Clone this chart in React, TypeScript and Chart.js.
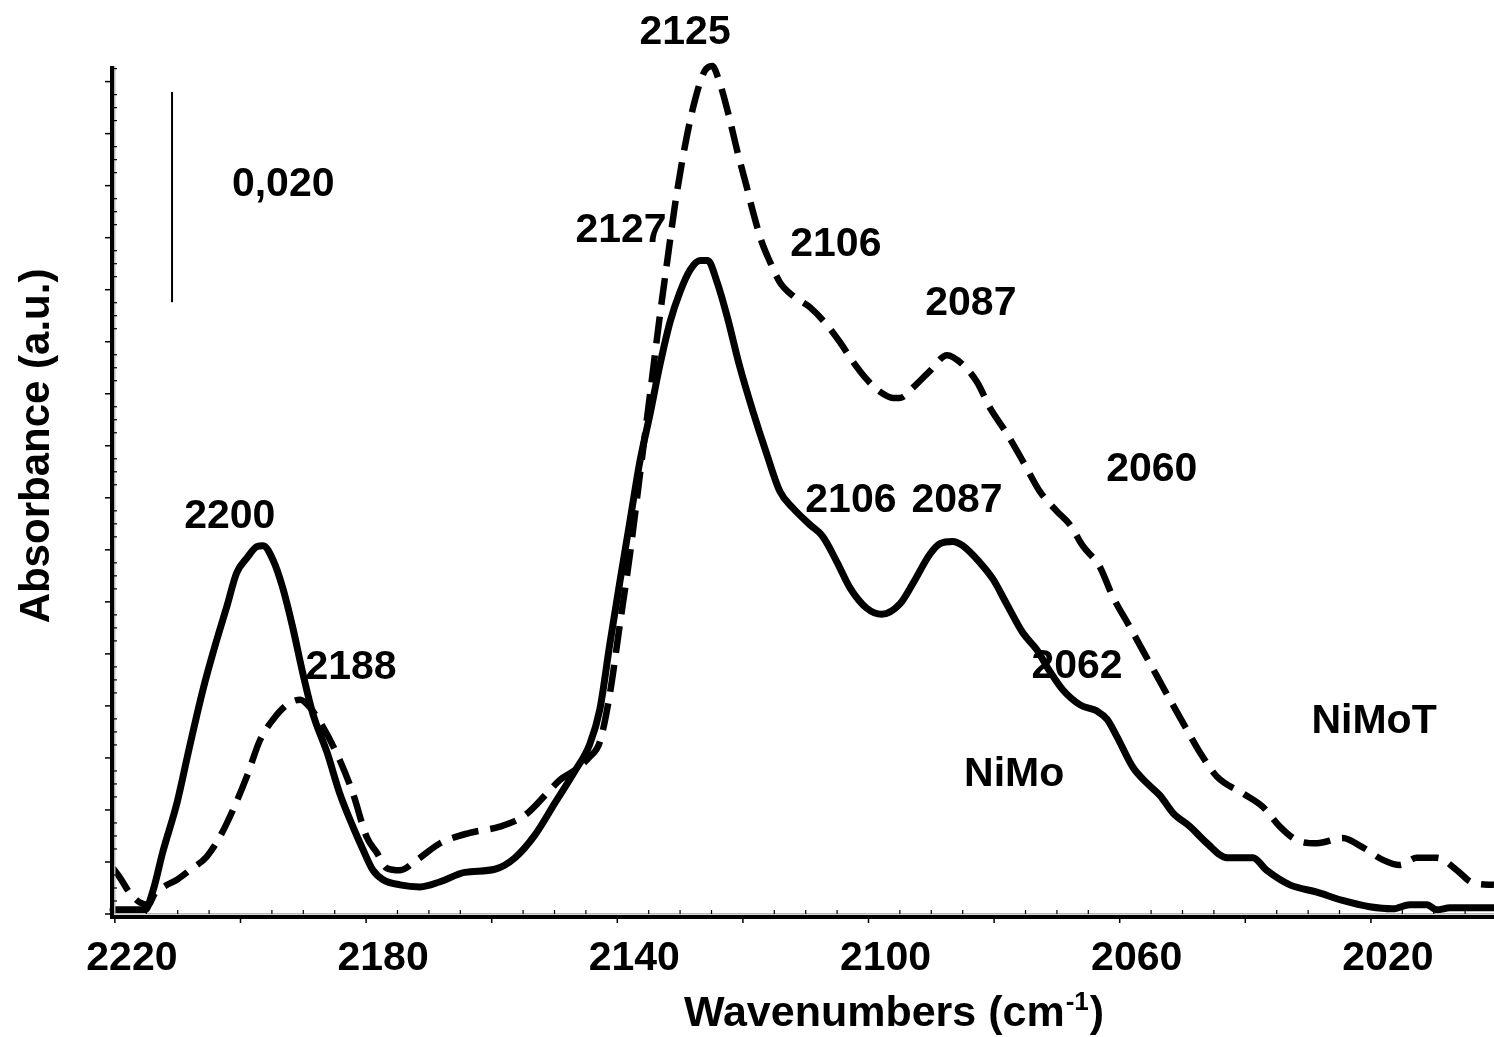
import React, { useEffect, useRef } from 'react';
import { Chart, registerables } from 'chart.js';

Chart.register(...registerables);

const FONT = '"Liberation Sans", Arial, Helvetica, sans-serif';

// NiMo (solid line)
const nimoWavenumbers = [2220.3, 2215.2, 2213.9, 2212.4, 2210.1, 2208.1, 2206.0, 2203.8, 2202.2, 2200.6, 2199.0, 2197.4, 2196.4, 2194.8, 2193.3, 2191.7, 2190.1, 2188.5, 2186.2, 2184.2, 2182.1, 2180.5, 2178.9, 2177.3, 2174.6, 2171.4, 2168.2, 2164.3, 2159.5, 2156.3, 2153.1, 2149.9, 2146.8, 2144.4, 2142.8, 2141.2, 2139.6, 2138.0, 2136.4, 2134.8, 2133.2, 2131.6, 2130.0, 2128.4, 2126.8, 2125.6, 2124.1, 2122.5, 2120.5, 2118.4, 2116.2, 2114.1, 2112.0, 2109.3, 2107.3, 2105.0, 2103.0, 2100.3, 2097.9, 2095.0, 2092.9, 2090.2, 2088.6, 2086.6, 2085.0, 2082.3, 2080.2, 2078.0, 2075.4, 2073.2, 2071.1, 2069.0, 2066.3, 2063.6, 2062.0, 2060.4, 2057.9, 2055.7, 2053.6, 2051.5, 2048.8, 2046.1, 2042.9, 2038.8, 2036.6, 2032.9, 2028.6, 2024.5, 2020.2, 2016.5, 2013.8, 2011.1, 2009.5, 2007.4, 2000.4];
const nimoAbsorbance = [0.0004, 0.0004, 0.0023, 0.0059, 0.0107, 0.0161, 0.0215, 0.0263, 0.0295, 0.0328, 0.0342, 0.0353, 0.0354, 0.0340, 0.0314, 0.0276, 0.0232, 0.0193, 0.0155, 0.0116, 0.0084, 0.0062, 0.0042, 0.0033, 0.0028, 0.0026, 0.0031, 0.0040, 0.0043, 0.0054, 0.0076, 0.0107, 0.0137, 0.0163, 0.0196, 0.0259, 0.0319, 0.0377, 0.0435, 0.0480, 0.0528, 0.0569, 0.0598, 0.0619, 0.0628, 0.0628, 0.0607, 0.0574, 0.0526, 0.0483, 0.0442, 0.0406, 0.0390, 0.0374, 0.0363, 0.0338, 0.0314, 0.0294, 0.0288, 0.0298, 0.0318, 0.0346, 0.0356, 0.0358, 0.0354, 0.0338, 0.0322, 0.0298, 0.0270, 0.0254, 0.0233, 0.0215, 0.0201, 0.0195, 0.0187, 0.0170, 0.0141, 0.0126, 0.0114, 0.0097, 0.0084, 0.0068, 0.0054, 0.0054, 0.0042, 0.0028, 0.0021, 0.0013, 0.0007, 0.0005, 0.0009, 0.0009, 0.0004, 0.0006, 0.0006];

// NiMoT (dashed line)
const nimotWavenumbers = [2220.3, 2219.2, 2217.6, 2216.0, 2214.7, 2213.6, 2212.0, 2210.1, 2208.1, 2205.4, 2203.3, 2201.2, 2199.0, 2196.9, 2194.8, 2192.6, 2190.5, 2189.0, 2186.9, 2184.2, 2182.1, 2179.9, 2178.3, 2176.7, 2174.6, 2171.9, 2168.2, 2163.5, 2158.7, 2154.7, 2151.5, 2149.1, 2146.8, 2144.4, 2142.8, 2141.2, 2139.6, 2138.0, 2136.4, 2134.8, 2133.2, 2131.9, 2130.8, 2129.2, 2127.6, 2126.1, 2124.9, 2123.7, 2122.4, 2120.8, 2119.4, 2118.4, 2117.0, 2115.7, 2114.1, 2112.0, 2109.3, 2106.6, 2104.6, 2102.5, 2100.3, 2098.2, 2096.1, 2095.0, 2092.9, 2090.2, 2087.5, 2085.0, 2082.7, 2080.7, 2078.0, 2075.4, 2072.7, 2070.0, 2067.9, 2065.9, 2063.2, 2061.1, 2058.4, 2055.2, 2052.0, 2049.3, 2047.2, 2044.5, 2040.4, 2037.2, 2034.5, 2031.8, 2028.6, 2024.5, 2021.3, 2018.1, 2015.4, 2012.7, 2009.5, 2006.3, 2003.8, 2000.4];
const nimotAbsorbance = [0.0044, 0.0035, 0.0020, 0.0011, 0.0009, 0.0020, 0.0027, 0.0033, 0.0042, 0.0055, 0.0074, 0.0100, 0.0132, 0.0167, 0.0187, 0.0201, 0.0206, 0.0199, 0.0180, 0.0148, 0.0116, 0.0074, 0.0059, 0.0044, 0.0042, 0.0052, 0.0068, 0.0078, 0.0084, 0.0095, 0.0114, 0.0129, 0.0138, 0.0151, 0.0165, 0.0211, 0.0278, 0.0345, 0.0422, 0.0499, 0.0576, 0.0634, 0.0682, 0.0739, 0.0783, 0.0810, 0.0815, 0.0799, 0.0771, 0.0731, 0.0699, 0.0675, 0.0646, 0.0627, 0.0607, 0.0594, 0.0583, 0.0566, 0.0550, 0.0531, 0.0514, 0.0502, 0.0496, 0.0496, 0.0506, 0.0522, 0.0537, 0.0528, 0.0511, 0.0487, 0.0462, 0.0435, 0.0406, 0.0387, 0.0374, 0.0354, 0.0334, 0.0305, 0.0276, 0.0241, 0.0206, 0.0177, 0.0155, 0.0132, 0.0116, 0.0103, 0.0084, 0.0071, 0.0068, 0.0073, 0.0064, 0.0052, 0.0047, 0.0054, 0.0054, 0.0042, 0.0030, 0.0028];

// scale bar (0,020 absorbance)
const scaleBarWavenumber = 2210.9;
const scaleBarAbsorbance = [0.0588, 0.0790];

// axis
const xTickLabels = [2220, 2180, 2140, 2100, 2060, 2020];
const xMin = 2000.4;
const xMax = 2220.3;
const xMinorStep = 5;
const xMajorStep = 20;
const yMin = 0;
const yMax = 0.0815;
const yMinorStep = 0.00125;
const yMajorEvery = 4;

// peak annotations
const annotationTexts = ['2125', '0,020', '2127', '2106', '2087', '2060', '2200', '2106', '2087', '2188', '2062', 'NiMoT', 'NiMo'];
const annotationWavenumbers = [2129.2, 2193.2, 2139.4, 2105.2, 2083.7, 2054.9, 2201.7, 2102.8, 2085.9, 2182.4, 2066.8, 2019.5, 2076.8];
const annotationAbsorbance = [0.0850, 0.0704, 0.0660, 0.0646, 0.0590, 0.0430, 0.0385, 0.0400, 0.0400, 0.0240, 0.0241, 0.0188, 0.0137];

const xTitleMain = 'Wavenumbers (cm';
const xTitleSup = '-1';
const xTitleEnd = ')';
const yTitle = 'Absorbance (a.u.)';

const decorPlugin = {
  id: 'decor',
  afterDraw(chart: any) {
    const ctx = chart.ctx as CanvasRenderingContext2D;
    const { left, right, top, bottom } = chart.chartArea;
    const xs = chart.scales.x;
    const ys = chart.scales.y;
    ctx.save();
    // axis lines
    ctx.fillStyle = '#b8b8b8';
    ctx.fillRect(left - 3, bottom - 1, right - left + 3, 1.5);
    ctx.fillRect(left + 1, top, 1.5, bottom - top);
    ctx.fillStyle = '#000';
    ctx.fillRect(left - 3, top, 4, bottom - top + 5);
    ctx.fillRect(left - 3, bottom + 1, right - left + 3, 4);
    // x ticks
    for (const t of xs.ticks) {
      const v = t.value;
      const px = xs.getPixelForValue(v);
      if (Math.abs(v % xMajorStep) < 1e-6) {
        ctx.fillRect(px - 0.75, bottom + 1, 1.5, 8);
      } else {
        ctx.fillRect(px - 0.6, bottom - 4, 1.2, 4);
      }
    }
    // y ticks
    ys.ticks.forEach((t: any, i: number) => {
      const py = ys.getPixelForValue(t.value);
      if (i % yMajorEvery === 0) {
        ctx.fillRect(left - 8, py - 0.75, 6, 1.5);
      } else {
        ctx.fillRect(left + 1, py - 0.6, 3, 1.2);
      }
    });
    // annotations
    ctx.font = `bold 41px ${FONT}`;
    ctx.textAlign = 'center';
    ctx.textBaseline = 'alphabetic';
    annotationTexts.forEach((txt, i) => {
      const px = xs.getPixelForValue(annotationWavenumbers[i]);
      const py = ys.getPixelForValue(annotationAbsorbance[i]);
      ctx.fillText(txt, px, py + 14.5);
    });
    // x title with superscript
    ctx.textAlign = 'left';
    ctx.font = `bold 43px ${FONT}`;
    const w1 = ctx.measureText(xTitleMain).width;
    const w3 = ctx.measureText(xTitleEnd).width;
    ctx.font = `bold 26px ${FONT}`;
    const w2 = ctx.measureText(xTitleSup).width;
    const total = w1 + w2 + w3;
    const cx = 893;
    const base = 1026;
    const x0 = cx - total / 2;
    ctx.font = `bold 43px ${FONT}`;
    ctx.fillText(xTitleMain, x0, base);
    ctx.font = `bold 26px ${FONT}`;
    ctx.fillText(xTitleSup, x0 + w1 + 1, base - 16);
    ctx.font = `bold 43px ${FONT}`;
    ctx.fillText(xTitleEnd, x0 + w1 + w2 + 2, base);
    // y title
    ctx.save();
    ctx.translate(49, 446);
    ctx.rotate(-Math.PI / 2);
    ctx.textAlign = 'center';
    ctx.font = `bold 42px ${FONT}`;
    ctx.fillText(yTitle, 0, 0);
    ctx.restore();
    ctx.restore();
  },
};

export default function App() {
  const ref = useRef<HTMLCanvasElement | null>(null);
  useEffect(() => {
    if (!ref.current) return;
    const xTickValues: number[] = [];
    for (let v = Math.ceil(xMin / xMinorStep) * xMinorStep; v <= xMax; v += xMinorStep) xTickValues.push(v);
    const yTickValues: number[] = [];
    for (let i = 0; i * yMinorStep <= yMax + 1e-9; i++) yTickValues.push(yMin + i * yMinorStep);

    const chart = new Chart(ref.current, {
      type: 'line',
      data: {
        datasets: [
          {
            label: 'NiMo',
            data: nimoWavenumbers.map((x, i) => ({ x, y: nimoAbsorbance[i] })),
            borderColor: '#000',
            borderWidth: 7,
            pointRadius: 0,
            cubicInterpolationMode: 'monotone',
            borderJoinStyle: 'round',
            borderCapStyle: 'round',
            clip: false,
          } as any,
          {
            label: 'NiMoT',
            data: nimotWavenumbers.map((x, i) => ({ x, y: nimotAbsorbance[i] })),
            borderColor: '#000',
            borderWidth: 6.5,
            borderDash: [27, 12],
            pointRadius: 0,
            cubicInterpolationMode: 'monotone',
            clip: false,
          } as any,
          {
            label: 'scale',
            data: scaleBarAbsorbance.map((y) => ({ x: scaleBarWavenumber, y })),
            borderColor: '#000',
            borderWidth: 2,
            pointRadius: 0,
          } as any,
        ],
      },
      options: {
        animation: false,
        responsive: true,
        maintainAspectRatio: false,
        layout: { padding: { top: 66, left: 0, right: 0, bottom: 0 } },
        plugins: { legend: { display: false }, tooltip: { enabled: false } },
        scales: {
          x: {
            type: 'linear',
            reverse: true,
            min: xMin,
            max: xMax,
            afterBuildTicks: (s: any) => {
              s.ticks = xTickValues.map((value) => ({ value }));
            },
            afterFit: (s: any) => {
              s.height = 123;
            },
            grid: { display: false, drawTicks: false },
            border: { display: false },
            ticks: {
              autoSkip: false,
              maxRotation: 0,
              minRotation: 0,
              padding: 20,
              labelOffset: 17,
              color: '#000',
              font: { family: FONT, size: 41, weight: 'bold' },
              callback: (v: any) => (xTickLabels.includes(Number(v)) ? String(v) : ''),
            },
          },
          y: {
            type: 'linear',
            min: yMin,
            max: yMax,
            afterBuildTicks: (s: any) => {
              s.ticks = yTickValues.map((value) => ({ value }));
            },
            afterFit: (s: any) => {
              s.width = 113;
            },
            grid: { display: false, drawTicks: false },
            border: { display: false },
            ticks: { display: false },
          },
        },
      } as any,
      plugins: [decorPlugin],
    });
    return () => chart.destroy();
  }, []);

  return (
    <div style={{ position: 'absolute', left: 0, top: 0, width: 1494, height: 1037, background: '#fff' }}>
      <canvas ref={ref} />
    </div>
  );
}
